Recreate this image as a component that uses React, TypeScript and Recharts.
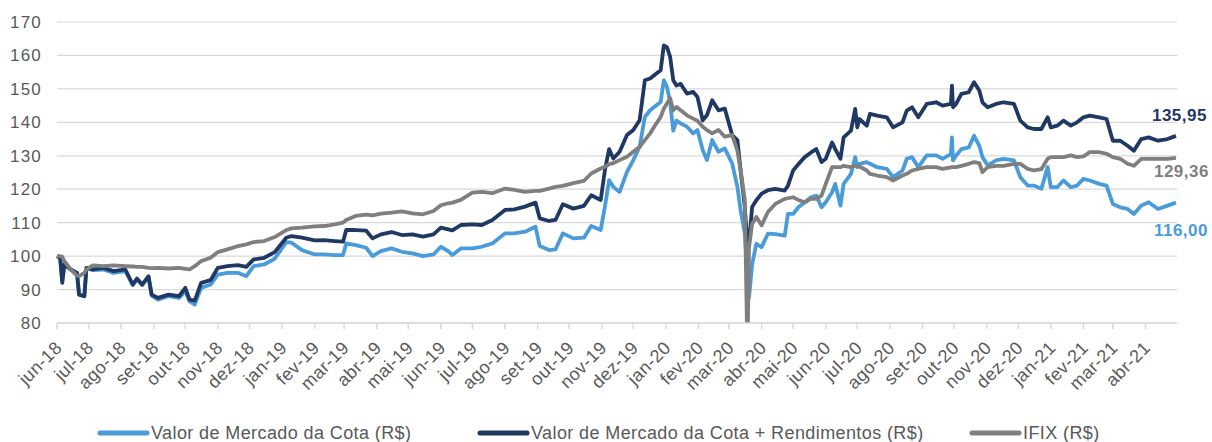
import React from 'react';
import { LineChart, Line, XAxis, YAxis, CartesianGrid, Legend } from 'recharts';

const dates = [
  '2018-06-01', '2018-06-04', '2018-06-06', '2018-06-08', '2018-06-14', '2018-06-20', '2018-06-22', '2018-06-27', '2018-06-29',
  '2018-07-05', '2018-07-15', '2018-07-25', '2018-08-05', '2018-08-12', '2018-08-16', '2018-08-21', '2018-08-27', '2018-08-30',
  '2018-09-05', '2018-09-15', '2018-09-25', '2018-10-01', '2018-10-05', '2018-10-10', '2018-10-16', '2018-10-25',
  '2018-11-01', '2018-11-10', '2018-11-20', '2018-11-28', '2018-12-05', '2018-12-15', '2018-12-25',
  '2019-01-05', '2019-01-10', '2019-01-20', '2019-02-01', '2019-02-10', '2019-02-20', '2019-02-28',
  '2019-03-03', '2019-03-12', '2019-03-22', '2019-03-28', '2019-04-05', '2019-04-15', '2019-04-25',
  '2019-05-05', '2019-05-15', '2019-05-25', '2019-06-01', '2019-06-08', '2019-06-12', '2019-06-20',
  '2019-07-01', '2019-07-10', '2019-07-20', '2019-08-01', '2019-08-10', '2019-08-20', '2019-08-30',
  '2019-09-03', '2019-09-12', '2019-09-18', '2019-09-25', '2019-10-05', '2019-10-15', '2019-10-22', '2019-10-31',
  '2019-11-04', '2019-11-08', '2019-11-12', '2019-11-18', '2019-11-25', '2019-12-01', '2019-12-07', '2019-12-12',
  '2019-12-17', '2019-12-23', '2019-12-27', '2019-12-30', '2020-01-02', '2020-01-05', '2020-01-08', '2020-01-11',
  '2020-01-15', '2020-01-21', '2020-01-27', '2020-01-31', '2020-02-05', '2020-02-09', '2020-02-14', '2020-02-20',
  '2020-02-26', '2020-03-04', '2020-03-09', '2020-03-12', '2020-03-16', '2020-03-18', '2020-03-19', '2020-03-20',
  '2020-03-23', '2020-03-27', '2020-04-01', '2020-04-07', '2020-04-14', '2020-04-23', '2020-04-26',
  '2020-05-01', '2020-05-06', '2020-05-12', '2020-05-18', '2020-05-23', '2020-05-28',
  '2020-06-01', '2020-06-07', '2020-06-10', '2020-06-15', '2020-06-18', '2020-06-25', '2020-06-29',
  '2020-07-01', '2020-07-03', '2020-07-10', '2020-07-13', '2020-07-20', '2020-07-29',
  '2020-08-04', '2020-08-13', '2020-08-17', '2020-08-22', '2020-08-28',
  '2020-09-05', '2020-09-14', '2020-09-20', '2020-09-28', '2020-09-29', '2020-09-30',
  '2020-10-03', '2020-10-08', '2020-10-15', '2020-10-20', '2020-10-25', '2020-10-28',
  '2020-11-02', '2020-11-10', '2020-11-17', '2020-11-27', '2020-12-03', '2020-12-10', '2020-12-16', '2020-12-23', '2020-12-29',
  '2021-01-01', '2021-01-07', '2021-01-13', '2021-01-20', '2021-01-26',
  '2021-02-01', '2021-02-07', '2021-02-16', '2021-02-23',
  '2021-03-01', '2021-03-08', '2021-03-15', '2021-03-21', '2021-03-28',
  '2021-04-04', '2021-04-13', '2021-04-22', '2021-04-30',
];

// Valor de Mercado da Cota (R$)
const valorCota = [
  100, 99.5, 92.5, 97.5, 96, 95, 88.5, 88, 96.5,
  95.8, 96, 95, 95.5, 91.3, 93, 91.3, 93.8, 88.2,
  87, 88, 87.5, 89.5, 86.5, 85.5, 90.5, 91.5,
  94.5, 95, 95, 94, 97, 97.5, 99.2,
  104.2, 104, 101.8, 100.5, 100.5, 100.3, 100.3,
  103.8, 103.3, 102.5, 100, 101.5, 102.3, 101.3,
  100.8, 100, 100.5, 102.8, 101.5, 100.3, 102.3,
  102.3, 102.8, 103.8, 106.8, 106.8, 107.3, 108.8,
  103, 101.8, 102, 106.8, 105.3, 105.5, 109, 107.8,
  114.8, 122.7, 120.7, 119.2, 125.2, 128.7, 132.7, 141.6,
  143.6, 145.1, 146.1, 152.6, 150.6, 146.1, 137.5, 140.5,
  139.7, 138.7, 136.7, 137.7, 131.7, 128.7, 134.7, 131.2,
  132.2, 127.7, 120.7, 113.8, 106.8, 97.5, 92, 87.5,
  97.5, 103.7, 102.7, 106.7, 106.6, 106.1, 112.6,
  112.6, 114.6, 116.1, 117.6, 118.1, 114.6,
  116.1, 119.1, 121.6, 115.1, 121.6, 124.6, 129.6,
  126.6, 127.6, 128.1, 127.6, 126.6, 126.1,
  123.6, 125.6, 129.1, 129.6, 126.6,
  130.1, 130.1, 129.1, 130.5, 135.5, 128.6,
  130.1, 132, 132.5, 136, 133, 129.6,
  127.1, 128.6, 129.1, 128.6, 123.6, 121.1, 121.1, 120.1, 126.6,
  120.6, 120.6, 122.6, 120.6, 121.1,
  123.1, 122.6, 121.6, 121.1,
  115.6, 114.6, 114.1, 112.6, 115.1,
  116.1, 114.1, 115.1, 116.0,
];

// Valor de Mercado da Cota + Rendimentos (R$)
const valorRendimentos = [
  100, 99.5, 92, 97.5, 96, 95, 88.5, 88, 96.5,
  96, 96.5, 95.5, 96, 91.5, 93.3, 91.5, 94, 88.5,
  87.5, 88.5, 88, 90.5, 87, 86.7, 92, 92.8,
  96.5, 97, 97.3, 96.8, 99, 99.5, 101.2,
  105.5, 106, 105.5, 104.7, 104.8, 104.5, 104.3,
  107.8, 107.8, 107.6, 105.3, 106.5, 107.2, 106.3,
  106.5, 105.8, 106.5, 108.5, 108, 107.7, 109.3,
  109.5, 109.3, 110.8, 113.8, 114, 114.8, 116,
  111.3, 110.5, 110.8, 115.5, 114.2, 115, 118.2, 116.8,
  125.7, 132, 129.2, 131.2, 136.2, 137.7, 140.6, 152.6,
  153.1, 154.6, 155.6, 163, 162.5, 159.6, 152.6, 151,
  151.5, 148.6, 149.1, 147.6, 140.6, 142.1, 146.6, 143.6,
  144.1, 136.2, 134.7, 125.7, 114.8, 105.7, 104.5, 103.7,
  114.7, 116.7, 118.7, 119.7, 120.1, 119.6, 121,
  125.6, 127.5, 129.6, 131, 132, 128.1,
  129.1, 134, 132, 129.1, 135.5, 137.5, 144,
  138.5, 141, 139, 142.5, 142, 141.5,
  138.5, 140, 143.5, 144.5, 141.5,
  145.5, 146, 145, 145.5, 151, 144.5,
  145.5, 148.5, 149, 152, 149.5, 146,
  144.5, 145.5, 146, 145.5, 140.5, 138.5, 138, 138, 141.5,
  138.5, 139, 140.5, 139, 140,
  141.5, 142, 141.5, 141,
  134.5, 134.5, 133, 131.5, 135,
  135.5, 134.5, 135, 135.95,
];

// IFIX (R$)
const ifix = [
  100, 100, 99.8, 98.5, 96, 94.2, 94, 95, 96,
  97.2, 97, 97.2, 97, 96.9, 96.8, 96.8, 96.5, 96.4,
  96.5, 96.3, 96.5, 96.2, 96, 97, 98.5, 99.5,
  101.2, 102, 103, 103.5, 104.2, 104.5, 105.7,
  107.8, 108.3, 108.5, 108.9, 109, 109.5, 110,
  110.8, 112, 112.4, 112.2, 112.7, 113, 113.4,
  112.8, 112.5, 113.5, 115.2, 115.8, 116, 116.8,
  119, 119.2, 118.8, 120.2, 119.8, 119.2, 119.5,
  119.5, 120.2, 120.7, 121, 121.8, 122.5, 124.7, 126.2,
  126.7, 127.5, 127.8, 128.7, 129.7, 131.2, 132.7, 134.7,
  136.7, 139.7, 141.6, 144.1, 145.6, 147.2, 143.6, 144.6,
  143.6, 142.1, 141.1, 140.5, 138.7, 137.7, 136.7, 137.7,
  135.7, 136.2, 131.5, 125.7, 117, 80, 80, 102.5,
  109.7, 111.7, 109.2, 113.2, 115.6, 117.1, 117.3,
  117.6, 116.8, 116.1, 117.1, 117.1, 118.1,
  121.6, 126.6, 126.6, 126.6, 127, 126.6, 127,
  127, 126.8, 125.6, 124.6, 124.1, 123.6,
  122.6, 124.1, 124.6, 125.6, 126.1,
  126.6, 126.6, 126.1, 126.5, 126.6, 126.6,
  126.6, 127, 127.6, 128.1, 127.8, 125.1,
  126.6, 127, 127, 127.6, 127.6, 126.1, 125.6, 126, 129.1,
  129.6, 129.6, 129.6, 130.1, 129.6,
  129.8, 131.1, 131.1, 130.6,
  129.6, 129.1, 127.6, 127, 129.1,
  129.1, 129.1, 129.1, 129.36,
];

const tickLabels = [
  'jun-18', 'jul-18', 'ago-18', 'set-18', 'out-18', 'nov-18', 'dez-18',
  'jan-19', 'fev-19', 'mar-19', 'abr-19', 'mai-19', 'jun-19', 'jul-19', 'ago-19', 'set-19', 'out-19', 'nov-19', 'dez-19',
  'jan-20', 'fev-20', 'mar-20', 'abr-20', 'mai-20', 'jun-20', 'jul-20', 'ago-20', 'set-20', 'out-20', 'nov-20', 'dez-20',
  'jan-21', 'fev-21', 'mar-21', 'abr-21',
];

const yTicks = [80, 90, 100, 110, 120, 130, 140, 150, 160, 170];

const COLOR_COTA = '#4a9bd9';
const COLOR_REND = '#1f3864';
const COLOR_IFIX = '#7f7f7f';
const FONT = '"Liberation Sans", Arial, sans-serif';

const data = dates.map((d, i) => ({
  t: Date.parse(d),
  cota: valorCota[i],
  rend: valorRendimentos[i],
  ifix: ifix[i],
}));

// month starts jun-18 .. abr-21
const tickTimes = tickLabels.map((_, i) => Date.UTC(2018, 5 + i, 1));
const xStart = Date.UTC(2018, 5, 1);
const xEnd = Date.UTC(2021, 4, 1);

const XTick = ({ x, y, payload }: any) => {
  const idx = tickTimes.indexOf(payload.value);
  return (
    <g transform={`translate(${x + 6},${y + 18}) rotate(-45)`}>
      <text x={0} y={0} textAnchor="end" fill="#595959" fontSize={18} fontFamily={FONT} letterSpacing={0.4}>
        {idx >= 0 ? tickLabels[idx] : ''}
      </text>
    </g>
  );
};

const endLabel = (series: number[], color: string, dx: number, dy: number) => (props: any) => {
  const { x, y, index } = props;
  if (index !== series.length - 1) return null;
  return (
    <text x={x + dx} y={y + dy} fill={color} fontSize={17} fontWeight="bold" fontFamily={FONT} letterSpacing={0.5}>
      {series[index].toFixed(2).replace('.', ',')}
    </text>
  );
};

const legendItems = [
  { name: 'Valor de Mercado da Cota (R$)', color: COLOR_COTA, left: 97 },
  { name: 'Valor de Mercado da Cota + Rendimentos (R$)', color: COLOR_REND, left: 477 },
  { name: 'IFIX (R$)', color: COLOR_IFIX, left: 969 },
];

const LegendContent = () => (
  <div style={{ position: 'relative', width: 1212, height: 40 }}>
    {legendItems.map((it) => (
      <div key={it.name} style={{ position: 'absolute', left: it.left, top: 20, height: 22, display: 'flex', alignItems: 'center' }}>
        <svg width={54} height={10} style={{ display: 'block' }}>
          <line x1={3} y1={5} x2={50} y2={5} stroke={it.color} strokeWidth={5} strokeLinecap="round" />
        </svg>
        <span style={{ fontFamily: FONT, fontSize: 18, color: '#595959', letterSpacing: 0.4, whiteSpace: 'nowrap' }}>{it.name}</span>
      </div>
    ))}
  </div>
);

export default function App() {
  return (
    <div style={{ position: 'absolute', left: 0, top: 0, width: 1212, height: 442, background: '#fff' }}>
      <LineChart width={1212} height={442} data={data} margin={{ top: 22, right: 35, bottom: 0, left: 0 }}>
        <CartesianGrid vertical={false} stroke="#d9d9d9" strokeWidth={1.2} />
        <XAxis
          dataKey="t"
          type="number"
          domain={[xStart, xEnd]}
          ticks={tickTimes}
          tick={<XTick />}
          interval={0}
          height={79}
          axisLine={{ stroke: '#d9d9d9', strokeWidth: 1.5 }}
          tickLine={{ stroke: '#d9d9d9', strokeWidth: 1.5 }}
          tickSize={6}
          tickMargin={2}
        />
        <YAxis
          domain={[80, 170]}
          ticks={yTicks}
          interval={0}
          allowDataOverflow
          width={57}
          axisLine={false}
          tickLine={false}
          tickSize={0}
          tickMargin={15}
          tick={{ fill: '#595959', fontSize: 17, fontFamily: FONT, letterSpacing: 1.2 }}
        />
        <Legend verticalAlign="bottom" height={40} wrapperStyle={{ left: 0, bottom: 0, width: 1212, height: 40 }} content={<LegendContent />} />
        <Line dataKey="cota" stroke={COLOR_COTA} strokeWidth={3.8} dot={false} type="linear" strokeLinejoin="round" isAnimationActive={false}
          label={endLabel(valorCota, COLOR_COTA, -22, 33)} />
        <Line dataKey="rend" stroke={COLOR_REND} strokeWidth={3.8} dot={false} type="linear" strokeLinejoin="round" isAnimationActive={false}
          label={endLabel(valorRendimentos, COLOR_REND, -24, -15)} />
        <Line dataKey="ifix" stroke={COLOR_IFIX} strokeWidth={3.8} dot={false} type="linear" strokeLinejoin="round" isAnimationActive={false}
          label={endLabel(ifix, COLOR_IFIX, -22, 19)} />
      </LineChart>
    </div>
  );
}
